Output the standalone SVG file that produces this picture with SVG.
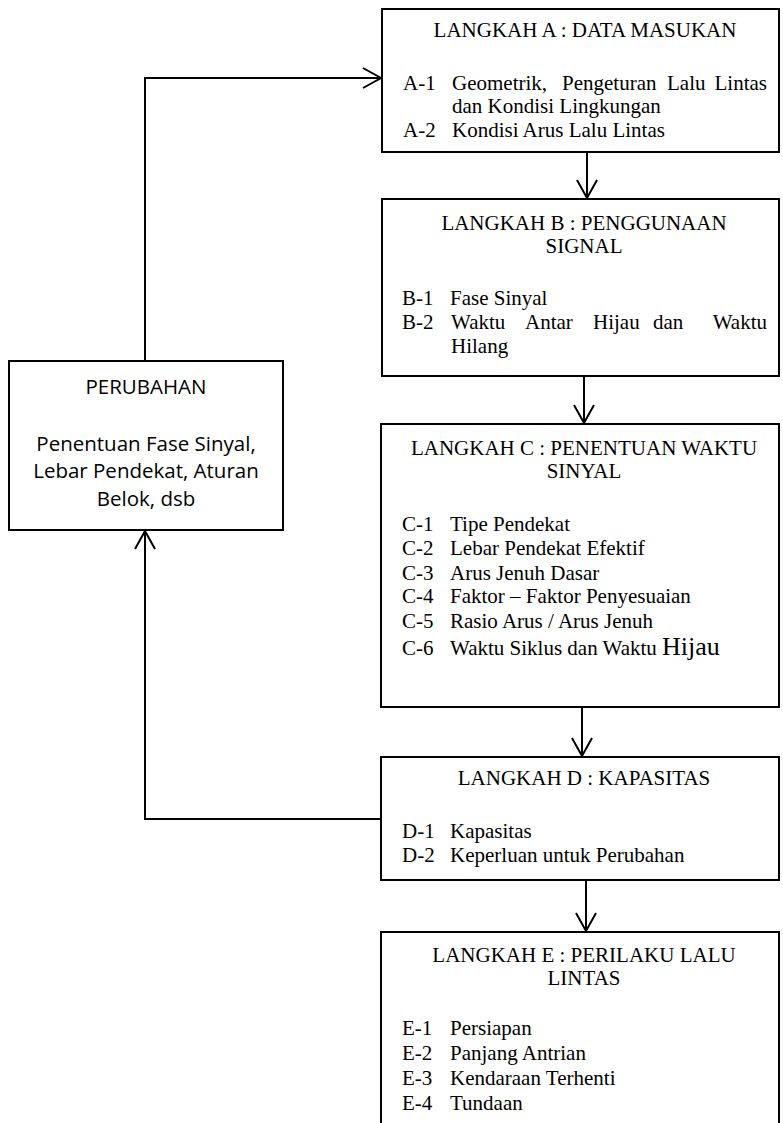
<svg xmlns="http://www.w3.org/2000/svg" width="783" height="1123" viewBox="0 0 783 1123">
<style>
.box{fill:#fff;stroke:#000;stroke-width:2}
.t{font-family:"Liberation Serif","Times New Roman",serif;font-size:21px;fill:#000}
.c{text-anchor:middle}
.e{text-anchor:end}
.s{font-family:"Open Sans","Noto Sans",sans-serif;font-size:20.5px;fill:#000;text-anchor:middle}
.conn{fill:none;stroke:#000;stroke-width:2}
</style>
<defs>
<marker id="arr" markerUnits="userSpaceOnUse" markerWidth="24" markerHeight="26" viewBox="-21 -13 24 26" refX="0" refY="0" orient="auto">
<path d="M-18,-10 L0,0 L-18,10" fill="none" stroke="#000" stroke-width="2"/>
</marker>
</defs>
<rect width="783" height="1123" fill="#fff"/>
<g id="connectors">
<line class="conn" x1="587" y1="152" x2="587" y2="198" marker-end="url(#arr)"/>
<line class="conn" x1="584" y1="376" x2="584" y2="423" marker-end="url(#arr)"/>
<line class="conn" x1="582" y1="707" x2="582" y2="756" marker-end="url(#arr)"/>
<line class="conn" x1="586" y1="880" x2="586" y2="931" marker-end="url(#arr)"/>
<path class="conn" d="M381,819 H145 V531" marker-end="url(#arr)"/>
<path class="conn" d="M145,361 V78 H381" marker-end="url(#arr)"/>
</g>
<g id="node-a">
<rect class="box" x="382" y="9" width="397" height="143"/>
<text class="t c" x="585" y="37">LANGKAH A : DATA MASUKAN</text>
<text class="t" x="403" y="90">A-1</text>
<text class="t" x="452" y="90">Geometrik,</text>
<text class="t" x="562" y="90">Pengeturan</text>
<text class="t" x="667" y="90">Lalu</text>
<text class="t e" x="767" y="90">Lintas</text>
<text class="t" x="452" y="113">dan Kondisi Lingkungan</text>
<text class="t" x="403" y="137">A-2</text>
<text class="t" x="452" y="137">Kondisi Arus Lalu Lintas</text>
</g>
<g id="node-b">
<rect class="box" x="382" y="199" width="397" height="177"/>
<text class="t c" x="584" y="230">LANGKAH B : PENGGUNAAN</text>
<text class="t c" x="584" y="253">SIGNAL</text>
<text class="t" x="402" y="305">B-1</text>
<text class="t" x="450" y="305">Fase Sinyal</text>
<text class="t" x="402" y="329">B-2</text>
<text class="t" x="451" y="329">Waktu</text>
<text class="t" x="525" y="329">Antar</text>
<text class="t" x="593" y="329">Hijau</text>
<text class="t" x="653" y="329">dan</text>
<text class="t e" x="767" y="329">Waktu</text>
<text class="t" x="451" y="353">Hilang</text>
</g>
<g id="node-c">
<rect class="box" x="381" y="424" width="398" height="283"/>
<text class="t c" x="584" y="455">LANGKAH C : PENENTUAN WAKTU</text>
<text class="t c" x="584" y="478">SINYAL</text>
<text class="t" x="402" y="531">C-1</text>
<text class="t" x="450" y="531">Tipe Pendekat</text>
<text class="t" x="402" y="555">C-2</text>
<text class="t" x="450" y="555">Lebar Pendekat Efektif</text>
<text class="t" x="402" y="580">C-3</text>
<text class="t" x="450" y="580">Arus Jenuh Dasar</text>
<text class="t" x="402" y="603">C-4</text>
<text class="t" x="450" y="603">Faktor – Faktor Penyesuaian</text>
<text class="t" x="402" y="628">C-5</text>
<text class="t" x="450" y="628">Rasio Arus / Arus Jenuh</text>
<text class="t" x="402" y="655">C-6</text>
<text class="t" x="450" y="655">Waktu Siklus dan Waktu <tspan font-size="26">Hijau</tspan></text>
</g>
<g id="node-d">
<rect class="box" x="381" y="757" width="398" height="123"/>
<text class="t c" x="584" y="785">LANGKAH D : KAPASITAS</text>
<text class="t" x="402" y="838">D-1</text>
<text class="t" x="450" y="838">Kapasitas</text>
<text class="t" x="402" y="862">D-2</text>
<text class="t" x="450" y="862">Keperluan untuk Perubahan</text>
</g>
<g id="node-e">
<rect class="box" x="381" y="932" width="398" height="200"/>
<text class="t c" x="584" y="962">LANGKAH E : PERILAKU LALU</text>
<text class="t c" x="584" y="985">LINTAS</text>
<text class="t" x="402" y="1035">E-1</text>
<text class="t" x="450" y="1035">Persiapan</text>
<text class="t" x="402" y="1060">E-2</text>
<text class="t" x="450" y="1060">Panjang Antrian</text>
<text class="t" x="402" y="1085">E-3</text>
<text class="t" x="450" y="1085">Kendaraan Terhenti</text>
<text class="t" x="402" y="1110">E-4</text>
<text class="t" x="450" y="1110">Tundaan</text>
</g>
<g id="node-perubahan">
<rect class="box" x="9" y="361" width="274" height="169"/>
<text class="s" x="146" y="394">PERUBAHAN</text>
<text class="s" x="146" y="451">Penentuan Fase Sinyal,</text>
<text class="s" x="146" y="478">Lebar Pendekat, Aturan</text>
<text class="s" x="146" y="506">Belok, dsb</text>
</g>
</svg>
